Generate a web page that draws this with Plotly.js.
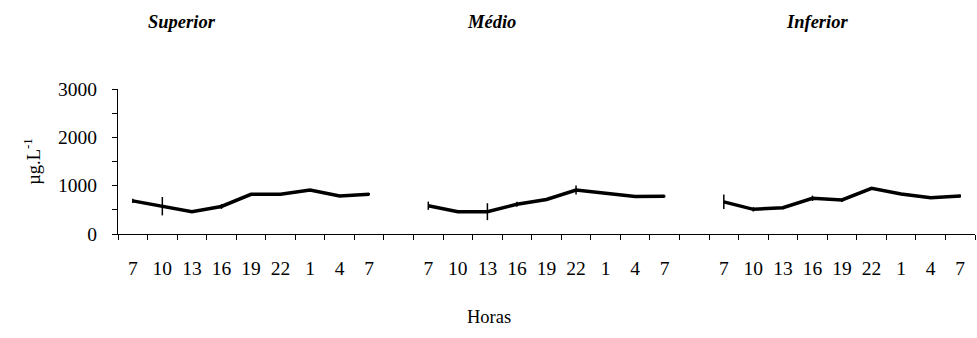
<!DOCTYPE html>
<html>
<head>
<meta charset="utf-8">
<script src="https://cdn.plot.ly/plotly-3.0.1.min.js"></script>
<style>html,body{margin:0;padding:0;background:#fff}#chart{width:977px;height:338px}</style>
</head>
<body>
<div id="chart"></div>
<script>
// Hour labels for each group
const hours = ["7", "10", "13", "16", "19", "22", "1", "4", "7"];
const groups = ["Superior", "Médio", "Inferior"];
// Values (µg.L-1)
const superior = [685, 575, 462, 570, 821, 821, 911, 787, 825];
const medio = [585, 462, 462, 615, 715, 911, 845, 775, 780];
const inferior = [665, 510, 545, 738, 704, 945, 828, 752, 787];
// Error bars (µg.L-1)
const superiorErr = [45, 190, 30, 50, 15, 15, 15, 20, 25];
const medioErr = [85, 15, 175, 50, 20, 95, 15, 20, 20];
const inferiorErr = [150, 45, 35, 55, 40, 15, 15, 25, 30];

const series = [superior, medio, inferior];
const errs = [superiorErr, medioErr, inferiorErr];
const perGroup = hours.length;
const stride = perGroup + 1; // one empty category between groups

const font = "Liberation Serif, serif";
const traces = [];
const tickvals = [], ticktext = [];
series.forEach((vals, g) => {
  const xs = vals.map((_, i) => g * stride + i);
  xs.forEach((x, i) => { tickvals.push(x); ticktext.push(hours[i]); });
  traces.push({
    x: xs, y: vals, type: "scatter", mode: "lines",
    line: {color: "#000", width: 3.5},
    error_y: {type: "data", array: errs[g], visible: true, color: "#000", thickness: 1.5, width: 0},
    showlegend: false, hoverinfo: "skip", xaxis: "x", yaxis: "y"
  });
});
const nCats = series.length * stride - 1;
const boundaries = [];
for (let k = 0; k <= nCats; k++) boundaries.push(k - 0.5);
// dummy trace for boundary tick axis
traces.push({x: [], y: [], xaxis: "x2", yaxis: "y", showlegend: false});

const titleX = [0.075, 0.436, 0.816];
const annotations = groups.map((t, i) => ({
  text: "<b><i>" + t + "</i></b>", xref: "paper", yref: "paper",
  x: titleX[i], y: 1.46, xanchor: "center", yanchor: "middle", showarrow: false,
  font: {family: font, size: 18.5, color: "#000"}
}));
annotations.push({
  text: "Horas", xref: "paper", yref: "paper", x: 0.433, y: -0.572,
  xanchor: "center", yanchor: "middle", showarrow: false,
  font: {family: font, size: 18.5, color: "#000"}
});

const layout = {
  width: 977, height: 338,
  margin: {l: 118, r: 2, t: 89, b: 104, pad: 0},
  paper_bgcolor: "#fff", plot_bgcolor: "#fff",
  font: {family: font, size: 19.5, color: "#000"},
  xaxis: {
    range: [-0.5, nCats - 0.5], tickmode: "array", tickvals: tickvals, ticktext: ticktext,
    ticks: "", showgrid: false, zeroline: false, showline: true, linecolor: "#000", linewidth: 1,
    ticklabelstandoff: 17, tickfont: {family: font, size: 19.5, color: "#000"}, fixedrange: true
  },
  xaxis2: {
    overlaying: "x", anchor: "y", side: "bottom", range: [-0.5, nCats - 0.5],
    tickmode: "array", tickvals: boundaries, ticks: "outside", ticklen: 5, tickwidth: 1, tickcolor: "#000",
    showticklabels: false, showgrid: false, zeroline: false, showline: false
  },
  yaxis: {
    range: [0, 3000], tickmode: "array", tickvals: [0, 1000, 2000, 3000],
    ticks: "outside", ticklen: 5, tickwidth: 1, tickcolor: "#000",
    minor: {tickvals: [500, 1500, 2500], ticks: "outside", ticklen: 5, tickwidth: 1, tickcolor: "#000", showgrid: false},
    showgrid: false, zeroline: false, showline: true, linecolor: "#000", linewidth: 1,
    ticklabelstandoff: 11, tickfont: {family: font, size: 19.5, color: "#000"},
    title: {text: "µg.L<sup>-1</sup>", standoff: 12, font: {family: font, size: 18.5, color: "#000"}}
  },
  annotations: annotations
};
Plotly.newPlot("chart", traces, layout, {staticPlot: true, displayModeBar: false});
</script>
</body>
</html>
